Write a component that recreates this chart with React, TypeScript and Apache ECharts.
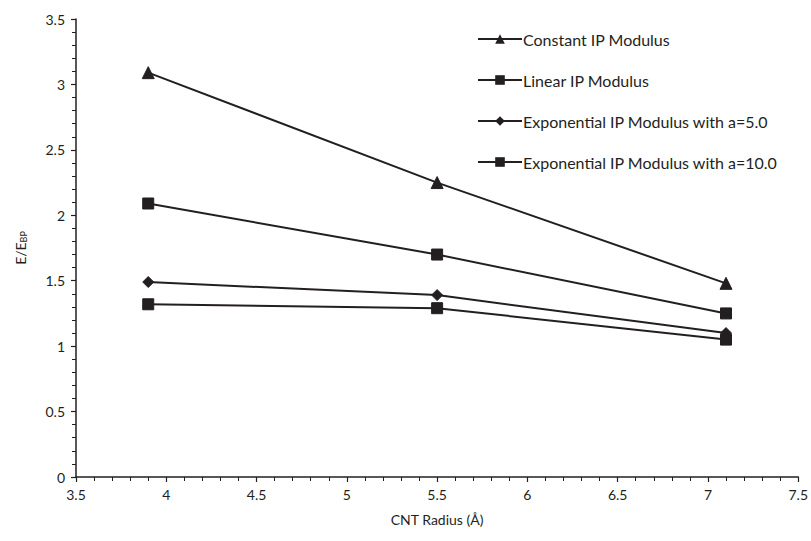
import React, { useEffect, useRef } from "react";
import * as echarts from "echarts";

const radius = [3.9, 5.5, 7.1];
const constantIP = [3.09, 2.25, 1.48];
const linearIP = [2.09, 1.7, 1.25];
const expA5 = [1.49, 1.39, 1.1];
const expA10 = [1.32, 1.29, 1.05];
const seriesNames = [
  "Constant IP Modulus",
  "Linear IP Modulus",
  "Exponential IP Modulus with a=5.0",
  "Exponential IP Modulus with a=10.0",
];
const seriesSymbols = ["triangle", "rect", "diamond", "rect"];
const seriesSizes = [12, 11, 11, 11];

const FONT = "Lato, 'Open Sans', sans-serif";
const INK = "#231f20";

export default function App() {
  const ref = useRef<HTMLDivElement>(null);
  useEffect(() => {
    document.body.style.margin = "0";
    if (!ref.current) return;
    const chart = echarts.init(ref.current, undefined, { renderer: "svg" });
    const datas = [constantIP, linearIP, expA5, expA10];
    chart.setOption({
      animation: false,
      backgroundColor: "#ffffff",
      textStyle: { fontFamily: FONT, color: INK },
      grid: { left: 76, right: 11, top: 19, bottom: 64, containLabel: false },
      legend: {
        orient: "vertical",
        left: 472,
        top: 26,
        itemWidth: 44,
        itemHeight: 12,
        itemGap: 25,
        textStyle: { fontFamily: FONT, fontSize: 16, color: INK, padding: [0, 0, 0, -4] },
        data: seriesNames,
      },
      xAxis: {
        type: "value",
        min: 3.5,
        max: 7.5,
        interval: 0.5,
        name: "CNT Radius (Å)",
        nameLocation: "middle",
        nameGap: 35,
        nameTextStyle: { fontFamily: FONT, fontSize: 14, color: INK },
        axisLine: { show: true, onZero: false, lineStyle: { color: INK, width: 1.5 } },
        axisTick: { show: true, inside: false, length: 5, lineStyle: { color: INK, width: 1.2 } },
        minorTick: { show: true, splitNumber: 5, length: 4, lineStyle: { color: INK, width: 1 } },
        splitLine: { show: false },
        axisLabel: { fontFamily: FONT, fontSize: 14, color: INK, margin: 10 },
      },
      yAxis: {
        type: "value",
        min: 0,
        max: 3.5,
        interval: 0.5,
        name: "{a|E/E}{b|BP}",
        nameLocation: "middle",
        nameGap: 48,
        nameRotate: 90,
        nameTextStyle: {
          rich: {
            a: { fontFamily: FONT, fontSize: 14, color: INK },
            b: { fontFamily: FONT, fontSize: 9, color: INK, verticalAlign: "bottom", padding: [6, 0, 0, 0] },
          },
        },
        axisLine: { show: true, lineStyle: { color: INK, width: 1.5 } },
        axisTick: { show: true, inside: false, length: 5, lineStyle: { color: INK, width: 1.2 } },
        minorTick: { show: true, splitNumber: 5, length: 4, lineStyle: { color: INK, width: 1 } },
        splitLine: { show: false },
        axisLabel: { fontFamily: FONT, fontSize: 14, color: INK, margin: 11 },
      },
      series: seriesNames.map((name, i) => ({
        name,
        type: "line",
        data: radius.map((x, j) => [x, datas[i][j]]),
        symbol: seriesSymbols[i],
        symbolSize: seriesSizes[i],
        showAllSymbol: true,
        lineStyle: { color: INK, width: 2 },
        itemStyle: { color: INK, borderColor: INK },
      })),
    });
    return () => chart.dispose();
  }, []);
  return (
    <div
      ref={ref}
      style={{ position: "absolute", left: 0, top: 0, width: 811, height: 541 }}
    />
  );
}
